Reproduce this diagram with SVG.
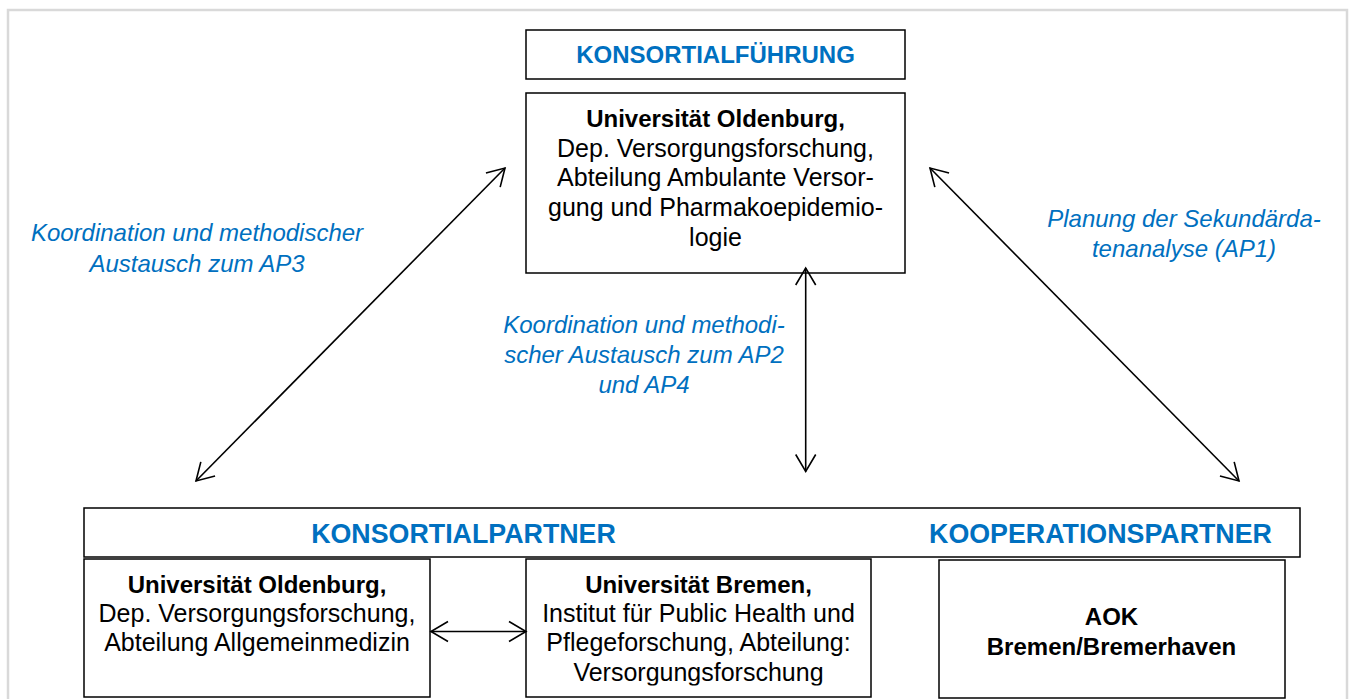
<svg xmlns="http://www.w3.org/2000/svg" width="1354" height="699" viewBox="0 0 1354 699">
<style>
.box{fill:#fff;stroke:#000;stroke-width:1.5}
.t{font-family:"Liberation Sans",Arial,sans-serif;font-size:25px;fill:#000;text-anchor:middle}
.b{font-weight:bold;font-size:24px}
.h{font-family:"Liberation Sans",Arial,sans-serif;font-weight:bold;fill:#0070c0;text-anchor:middle}
.lbl{font-family:"Liberation Sans",Arial,sans-serif;font-style:italic;font-size:24px;fill:#0070c0;text-anchor:middle}
.con{fill:none;stroke:#000;stroke-width:1.6;marker-start:url(#ah);marker-end:url(#ah)}
</style>
<defs>
<marker id="ah" markerUnits="userSpaceOnUse" markerWidth="24" markerHeight="24" viewBox="-20 -12 24 24" refX="0" refY="0" orient="auto-start-reverse">
<path d="M-17,-10 L0,0 L-17,10" fill="none" stroke="#000" stroke-width="1.6"/>
</marker>
<clipPath id="clipB"><rect x="526" y="559" width="345" height="126.5"/></clipPath>
</defs>
<rect x="0" y="0" width="1354" height="699" fill="#fff"/>
<rect x="8" y="10" width="1339" height="700" fill="none" stroke="#d9d9d9" stroke-width="2.5"/>

<g id="konsortialfuehrung-header">
<rect class="box" x="526" y="30" width="379" height="49"/>
<text class="h" x="715.5" y="63" font-size="24">KONSORTIALFÜHRUNG</text>
</g>

<g id="uni-oldenburg-lead">
<rect class="box" x="526" y="93" width="379" height="180"/>
<text class="t b" x="715.5" y="127">Universität Oldenburg,</text>
<text class="t" x="715.5" y="157">Dep. Versorgungsforschung,</text>
<text class="t" x="715.5" y="186">Abteilung Ambulante Versor-</text>
<text class="t" x="715.5" y="216">gung und Pharmakoepidemio-</text>
<text class="t" x="715.5" y="246">logie</text>
</g>

<g id="partner-header">
<rect class="box" x="84" y="508" width="1216" height="49"/>
<text class="h" x="463.5" y="543" font-size="26.8">KONSORTIALPARTNER</text>
<text class="h" x="1100.5" y="543" font-size="26.8">KOOPERATIONSPARTNER</text>
</g>

<g id="uni-oldenburg-allgemein">
<rect class="box" x="84" y="559" width="346" height="138"/>
<text class="t b" x="257" y="593">Universität Oldenburg,</text>
<text class="t" x="257" y="622">Dep. Versorgungsforschung,</text>
<text class="t" x="257" y="651">Abteilung Allgemeinmedizin</text>
</g>

<g id="uni-bremen">
<rect class="box" x="526" y="559" width="345" height="138"/>
<g clip-path="url(#clipB)">
<text class="t b" x="698.5" y="593">Universität Bremen,</text>
<text class="t" x="698.5" y="622">Institut für Public Health und</text>
<text class="t" x="698.5" y="651">Pflegeforschung, Abteilung:</text>
<text class="t" x="698.5" y="681">Versorgungsforschung</text>
</g>
</g>

<g id="aok">
<rect class="box" x="939" y="560" width="346" height="138"/>
<text class="t b" x="1111.5" y="625">AOK</text>
<text class="t b" x="1111.5" y="655">Bremen/Bremerhaven</text>
</g>

<g id="connectors">
<line class="con" x1="196" y1="481" x2="505" y2="168"/>
<line class="con" x1="805.7" y1="268" x2="805.7" y2="471.5"/>
<line class="con" x1="930" y1="168" x2="1239" y2="481"/>
<line class="con" x1="431" y1="631.5" x2="526" y2="631.5"/>
</g>

<g id="labels">
<text class="lbl" x="197" y="241">Koordination und methodischer</text>
<text class="lbl" x="197" y="272">Austausch zum AP3</text>
<text class="lbl" x="644" y="333">Koordination und methodi-</text>
<text class="lbl" x="644" y="363">scher Austausch zum AP2</text>
<text class="lbl" x="644" y="393">und AP4</text>
<text class="lbl" x="1184" y="227">Planung der Sekundärda-</text>
<text class="lbl" x="1184" y="257">tenanalyse (AP1)</text>
</g>
</svg>
